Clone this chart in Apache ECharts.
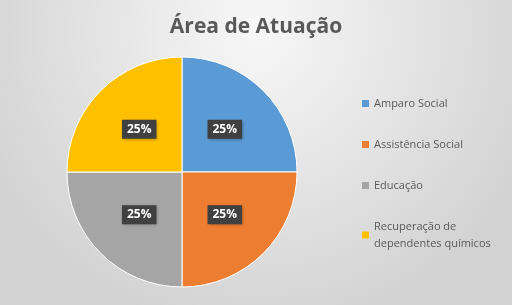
<!DOCTYPE html>
<html><head><meta charset="utf-8">
<script src="https://cdn.jsdelivr.net/npm/echarts@6/dist/echarts.min.js"></script>
<style>html,body{margin:0;padding:0;background:#fff}#c{width:512px;height:305px}</style>
</head><body><div id="c"></div>
<script>
const categories = ['Amparo Social', 'Assistência Social', 'Educação', 'Recuperação de\ndependentes químicos'];
const values = [25, 25, 25, 25];
const colors = ['#5B9BD5', '#ED7D31', '#A5A5A5', '#FFC000'];
const titleText = 'Área de Atuação';

const chart = echarts.init(document.getElementById('c'));
chart.setOption({
  backgroundColor: {
    type: 'radial', x: 0.5, y: 0.1, r: 1.0,
    colorStops: [{offset: 0, color: '#f7f7f7'}, {offset: 1, color: '#d2d2d2'}]
  },
  animation: false,
  title: {
    text: titleText, left: 'center', top: 12,
    textStyle: {fontFamily: 'Open Sans', fontWeight: 'bold', fontSize: 21, color: '#595959'}
  },
  legend: {
    orient: 'vertical', left: 362, top: 95, itemGap: 24, padding: 0,
    itemWidth: 7, itemHeight: 7, icon: 'rect',
    itemStyle: {borderWidth: 0},
    textStyle: {fontFamily: 'Open Sans', fontSize: 11, color: '#595959', lineHeight: 17},
    data: categories
  },
  series: [{
    type: 'pie', center: [182, 172], radius: 115, startAngle: 90, clockwise: true,
    color: colors,
    itemStyle: {borderColor: '#ffffff', borderWidth: 1},
    label: {
      show: true, position: 'inside', formatter: '{d}%',
      color: '#ffffff', fontFamily: 'Open Sans', fontWeight: 'bold', fontSize: 12,
      backgroundColor: '#404040', padding: [4, 5, 3, 5],
      shadowColor: 'rgba(0,0,0,0.35)', shadowBlur: 3, shadowOffsetX: 1, shadowOffsetY: 1
    },
    labelLine: {show: false},
    emphasis: {disabled: true},
    data: categories.map((n, i) => ({name: n, value: values[i]}))
  }]
});
</script>
</body></html>
